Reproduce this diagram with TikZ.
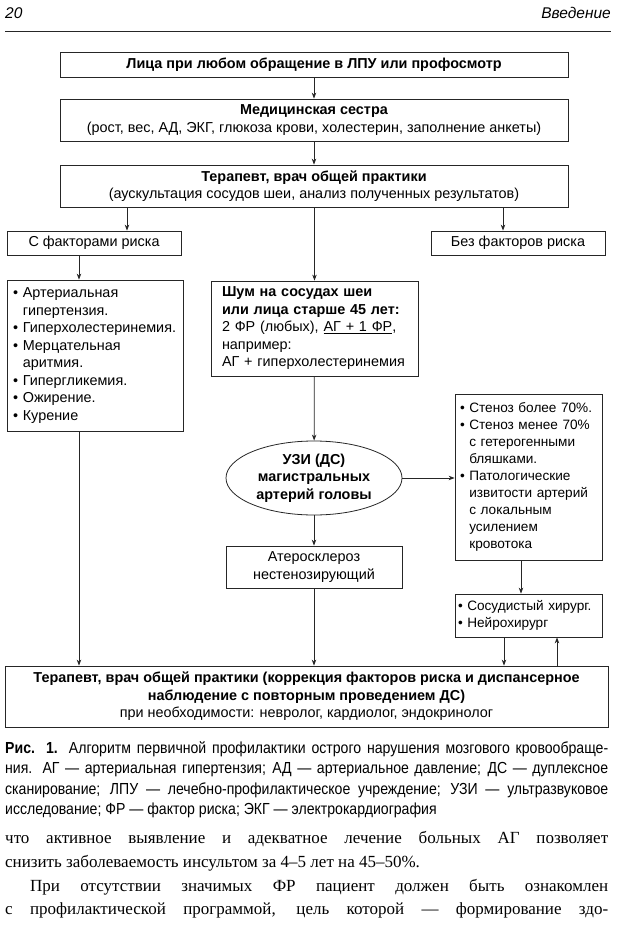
\documentclass[tikz,border=0pt]{standalone}
\usepackage{fontspec}
\setmainfont{Liberation Sans}
\newfontfamily\capfont[FakeStretch=0.88]{Liberation Sans}
\newfontfamily\prosefont{Liberation Serif}
\usetikzlibrary{shapes.geometric,arrows.meta}
\newcommand{\bfs}{\fontsize{14.4}{17.5}\selectfont}
\newcommand{\sfs}{\fontsize{13.6}{17}\selectfont}
\newcommand{\capfs}{\capfont\fontsize{16}{18}\selectfont}
\newcommand{\prfs}{\prosefont\fontsize{17}{20}\selectfont}
\newcommand{\ind}{\phantom{•\ }}
\begin{document}
\begin{tikzpicture}[x=1pt,y=-1pt,
  box/.style={draw=black!85, line width=0.8pt, inner sep=0pt, font=\bfs, align=center},
  lbox/.style={draw=black!85, line width=0.8pt, inner ysep=0pt, font=\bfs, align=left},
  arr/.style={-{Stealth[length=6pt,width=4.5pt]}, line width=0.8pt, draw=black!85},
  ln/.style={line width=0.8pt, draw=black!85},
  txt/.style={inner sep=0pt, anchor=base west}]
\useasboundingbox (0,0) rectangle (616,928);

% header
\node[txt, font=\fontsize{15.5}{17}\selectfont\itshape] (pg) at (5,19) {20};
\node[inner sep=0pt, anchor=base east, font=\fontsize{15.5}{17}\selectfont\itshape] (hd) at (611,19) {Введение};
\coordinate (rl) at (5,31); \coordinate (rr) at (611,31);
\draw[ln] (rl) -- (rr);

% boxes
\node[box, minimum width=508, minimum height=25] (b1) at (314,64.5) {\textbf{Лица при любом обращение в ЛПУ или профосмотр}};
\node[box, minimum width=508, minimum height=42] (b2) at (314,120) {\textbf{Медицинская сестра}\\(рост, вес, АД, ЭКГ, глюкоза крови, холестерин, заполнение анкеты)};
\node[box, minimum width=508, minimum height=42] (b3) at (314,186) {\textbf{Терапевт, врач общей практики}\\(аускультация сосудов шеи, анализ полученных результатов)};
\node[box, minimum width=174, minimum height=24] (rf) at (94,243) {С факторами риска};
\node[box, minimum width=174, minimum height=24] (nrf) at (518,243) {Без факторов риска};
\node[lbox, inner xsep=6, text width=164, minimum height=151] (lst) at (95,355.5) {• Артериальная\\\ind гипертензия.\\• Гиперхолестеринемия.\\• Мерцательная\\\ind аритмия.\\• Гипергликемия.\\• Ожирение.\\• Курение};
\node[lbox, inner xsep=11, text width=185, minimum height=95] (shum) at (314.5,328.5) {\textbf{Шум на сосудах шеи}\\\textbf{или лица старше 45 лет:}\\2 ФР (любых), \underline{АГ + 1 ФР},\\например:\\АГ + гиперхолестеринемия};
\node[ellipse, draw=black!85, line width=0.8pt, inner sep=0pt, minimum width=176, minimum height=74, font=\bfs, align=center] (uzi) at (314,478) {\textbf{УЗИ (ДС)}\\\textbf{магистральных}\\\textbf{артерий головы}};
\node[lbox, font=\sfs, inner xsep=5, text width=137, minimum height=166] (sten) at (528.5,477) {• Стеноз более 70\%.\\• Стеноз менее 70\%\\\ind с гетерогенными\\\ind бляшками.\\• Патологические\\\ind извитости артерий\\\ind с локальным\\\ind усилением\\\ind кровотока};
\node[box, minimum width=176, minimum height=42] (ath) at (314,567) {Атеросклероз\\нестенозирующий};
\node[lbox, font=\sfs, inner xsep=3, text width=141, minimum height=43] (surg) at (528.5,615.5) {• Сосудистый хирург.\\• Нейрохирург};
\node[box, minimum width=603, minimum height=61] (main) at (306.5,696.5) {\textbf{Терапевт, врач общей практики (коррекция факторов риска и диспансерное}\\\textbf{наблюдение с повторным проведением ДС)}\\при необходимости: невролог, кардиолог, эндокринолог};

% connector x positions
\coordinate (xA) at (127,0);
\coordinate (xB) at (503,0);
\coordinate (xC) at (79,0);
\coordinate (xD) at (521,0);
\coordinate (xE) at (504,0);
\coordinate (xF) at (557,0);

\draw[arr] (b1) -- (b2);
\draw[arr] (b2) -- (b3);
\draw[arr] (b3.south -| xA) -- (rf.north -| xA);
\draw[arr] (b3.south -| shum) -- (shum.north);
\draw[arr] (b3.south -| xB) -- (nrf.north -| xB);
\draw[arr] (rf.south -| xC) -- (lst.north -| xC);
\draw[arr] (lst.south -| xC) -- (main.north -| xC);
\draw[arr] (shum) -- (uzi);
\draw[arr] (uzi.east) -- (uzi.east -| sten.west);
\draw[arr] (uzi) -- (ath);
\draw[arr] (ath) -- (main.north -| ath);
\draw[arr] (sten.south -| xD) -- (surg.north -| xD);
\draw[arr] (surg.south -| xE) -- (main.north -| xE);
\draw[arr] (main.north -| xF) -- (surg.south -| xF);

% caption
\node[txt] (c1) at (5,753) {\makebox[603pt][s]{\capfs\textbf{Рис. 1.} Алгоритм первичной профилактики острого нарушения мозгового кровообраще-}};
\node[txt] (c2) at (5,773.5) {\makebox[603pt][s]{\capfs ния. АГ — артериальная гипертензия; АД — артериальное давление; ДС — дуплексное}};
\node[txt] (c3) at (5,794) {\makebox[603pt][s]{\capfs сканирование; ЛПУ — лечебно-профилактическое учреждение; УЗИ — ультразвуковое}};
\node[txt, font=\capfs] (c4) at (5,814) {исследование; ФР — фактор риска; ЭКГ — электрокардиография};

% prose
\node[txt] (p1) at (5,843) {\makebox[603pt][s]{\prfs что активное выявление и адекватное лечение больных АГ позволяет}};
\node[txt, font=\prfs] (p2) at (5,867) {снизить заболеваемость инсультом за 4–5 лет на 45–50\%.};
\node[txt] (p3) at (30,891) {\makebox[578pt][s]{\prfs При отсутствии значимых ФР пациент должен быть ознакомлен}};
\node[txt] (p4) at (5,914) {\makebox[603pt][s]{\prfs с профилактической программой, цель которой — формирование здо-}};
\end{tikzpicture}
\end{document}
